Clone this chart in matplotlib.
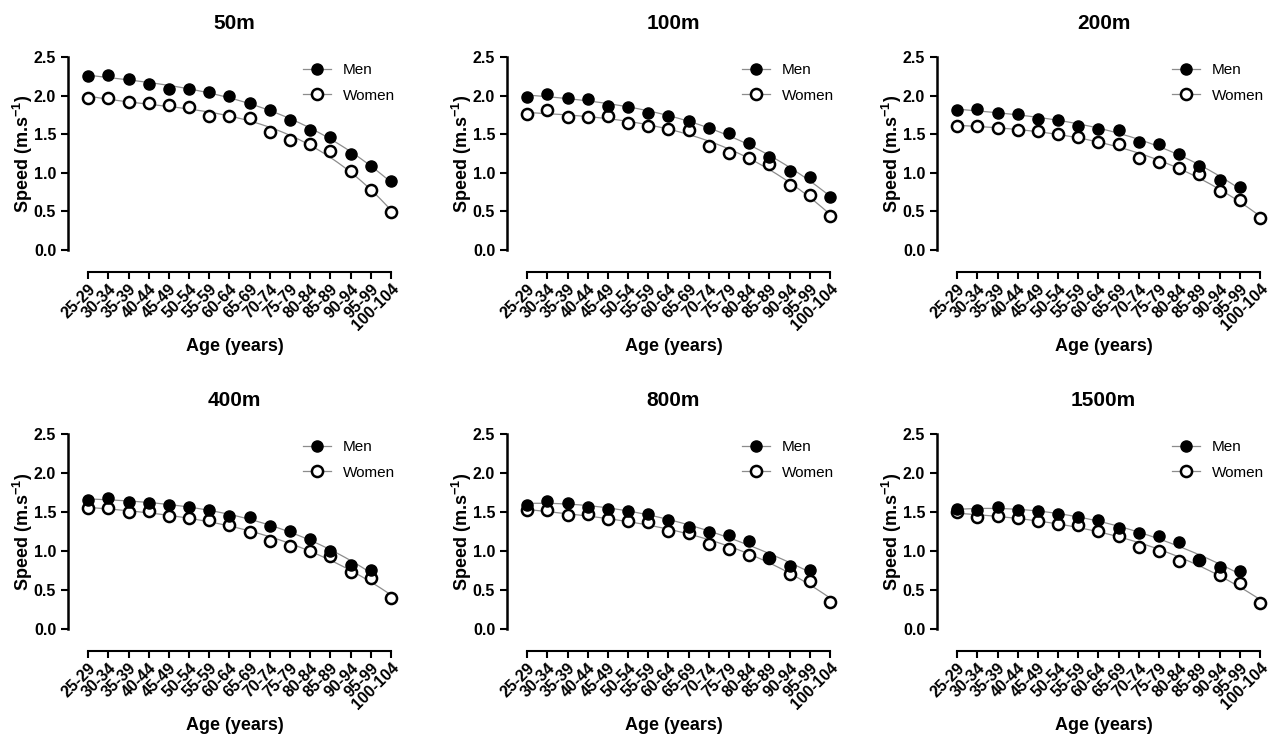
import numpy as np
import matplotlib.pyplot as plt

plt.rcParams['font.family'] = ['Liberation Sans', 'DejaVu Sans']
plt.rcParams['mathtext.fontset'] = 'custom'
plt.rcParams['mathtext.bf'] = 'Liberation Sans:bold'
plt.rcParams['mathtext.rm'] = 'Liberation Sans:bold'

age_groups = ["25-29", "30-34", "35-39", "40-44", "45-49", "50-54", "55-59", "60-64",
              "65-69", "70-74", "75-79", "80-84", "85-89", "90-94", "95-99", "100-104"]
events = ["50m", "100m", "200m", "400m", "800m", "1500m"]

nan = np.nan
men_50 = [2.25, 2.27, 2.21, 2.15, 2.09, 2.09, 2.05, 1.99, 1.91, 1.81, 1.69, 1.56, 1.47, 1.24, 1.09, 0.89]
women_50 = [1.97, 1.97, 1.92, 1.90, 1.88, 1.85, 1.74, 1.73, 1.71, 1.53, 1.43, 1.37, 1.28, 1.02, 0.78, 0.49]
men_100 = [1.98, 2.02, 1.97, 1.95, 1.87, 1.85, 1.78, 1.74, 1.67, 1.58, 1.51, 1.39, 1.20, 1.02, 0.94, 0.69]
women_100 = [1.76, 1.81, 1.72, 1.72, 1.74, 1.65, 1.61, 1.57, 1.55, 1.35, 1.26, 1.19, 1.12, 0.84, 0.71, 0.44]
men_200 = [1.81, 1.83, 1.77, 1.76, 1.70, 1.69, 1.61, 1.57, 1.55, 1.40, 1.37, 1.25, 1.09, 0.91, 0.82, nan]
women_200 = [1.61, 1.61, 1.58, 1.55, 1.54, 1.50, 1.46, 1.40, 1.37, 1.19, 1.14, 1.06, 0.98, 0.76, 0.65, 0.42]
men_400 = [1.66, 1.68, 1.63, 1.62, 1.59, 1.56, 1.52, 1.45, 1.44, 1.32, 1.26, 1.16, 1.00, 0.82, 0.76, nan]
women_400 = [1.55, 1.55, 1.50, 1.51, 1.45, 1.42, 1.40, 1.33, 1.25, 1.13, 1.07, 1.00, 0.94, 0.73, 0.65, 0.40]
men_800 = [1.59, 1.64, 1.62, 1.56, 1.54, 1.51, 1.48, 1.40, 1.31, 1.25, 1.20, 1.13, 0.92, 0.81, 0.76, nan]
women_800 = [1.52, 1.52, 1.46, 1.47, 1.41, 1.38, 1.37, 1.26, 1.23, 1.09, 1.03, 0.95, 0.91, 0.71, 0.62, 0.35]
men_1500 = [1.54, 1.53, 1.56, 1.53, 1.51, 1.47, 1.44, 1.40, 1.29, 1.23, 1.19, 1.12, 0.88, 0.80, 0.74, nan]
women_1500 = [1.50, 1.43, 1.45, 1.42, 1.39, 1.35, 1.33, 1.26, 1.19, 1.05, 1.00, 0.87, 0.88, 0.69, 0.59, 0.33]

men = [men_50, men_100, men_200, men_400, men_800, men_1500]
women = [women_50, women_100, women_200, women_400, women_800, women_1500]

fig = plt.figure(figsize=(12.76, 7.36), dpi=100)
W, H = 1276.0, 736.0
lefts = [68, 507, 937]
rows = [(250, 57), (629, 434)]  # (pixel of 0.0, pixel of 2.5)
x = np.arange(len(age_groups))
line_grey = '#8c8c8c'


def fit_curve(ax, xs, ys):
    xs = np.asarray(xs, float)
    ys = np.asarray(ys, float)
    ok = ~np.isnan(ys)
    c = np.polyfit(xs[ok], ys[ok], 3)
    xf = np.linspace(xs[ok].min(), xs[ok].max(), 200)
    ax.plot(xf, np.polyval(c, xf), color=line_grey, lw=0.9, zorder=1)


for i, ev in enumerate(events):
    r, cidx = divmod(i, 3)
    y0, y25 = rows[r]
    left = lefts[cidx]
    ax = fig.add_axes([left / W, 1 - y0 / H, 333 / W, (y0 - y25) / H])

    # spines first: set_position resets the ticks
    for s in ['top', 'right']:
        ax.spines[s].set_visible(False)
    ax.spines['left'].set_linewidth(1.8)
    ax.spines['bottom'].set_linewidth(1.5)
    ax.spines['bottom'].set_position(('outward', 15.5))
    ax.spines['bottom'].set_bounds(0, 15)

    fit_curve(ax, x, men[i])
    fit_curve(ax, x, women[i])
    ax.plot(x, women[i], 'o', ms=8, mfc='white', mec='black', mew=1.8,
            zorder=3, clip_on=False)
    ax.plot(x, men[i], 'o', ms=8, mfc='black', mec='black', mew=1.0,
            zorder=4, clip_on=False)

    # legend handles with line through marker
    h_m, = ax.plot([], [], '-o', color=line_grey, lw=0.9, ms=8, mfc='black', mec='black')
    h_w, = ax.plot([], [], '-o', color=line_grey, lw=0.9, ms=8, mfc='white', mec='black', mew=1.8)
    ax.legend([h_m, h_w], ["Men", "Women"], loc='upper right', frameon=False,
              fontsize=11, handlelength=1.8, borderaxespad=0.0,
              bbox_to_anchor=(1.0, 1.0), labelspacing=0.75)

    ax.set_xlim(-1, 15.5)
    ax.set_ylim(0, 2.5)
    ax.set_yticks([0, 0.5, 1.0, 1.5, 2.0, 2.5])
    ax.set_yticklabels(["0.0", "0.5", "1.0", "1.5", "2.0", "2.5"], fontweight='bold', fontsize=11.5)
    ax.set_xticks(x)
    ax.set_xticklabels(age_groups, rotation=45, ha='right', rotation_mode='anchor',
                       fontweight='bold', fontsize=11.5)
    ax.tick_params(axis='both', direction='out', length=5, width=1.5)
    ax.tick_params(axis='x', pad=2)

    ax.set_title(ev, fontweight='bold', fontsize=15, pad=20)
    ax.set_ylabel("Speed (m.s$^{-1}$)", fontweight='bold', fontsize=13, labelpad=-1)
    ax.set_xlabel("Age (years)", fontweight='bold', fontsize=13, labelpad=3)

fig.savefig("out.png", dpi=100)
